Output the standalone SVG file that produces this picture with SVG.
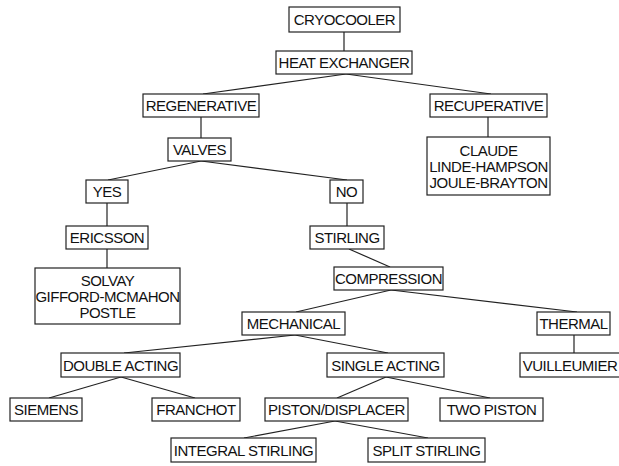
<svg xmlns="http://www.w3.org/2000/svg" width="619" height="466" viewBox="0 0 619 466">
<style>
rect{fill:#fff;stroke:#222;stroke-width:1.2}
text{font-family:"Liberation Sans",Arial,sans-serif;font-size:15px;letter-spacing:-0.5px;fill:#111;text-anchor:middle}
#connectors line{stroke:#222;stroke-width:1.2}
</style>
<rect x="0" y="0" width="619" height="466" style="fill:#fff;stroke:none"/>
<g id="connectors">
<line x1="344" y1="32" x2="344" y2="51"/>
<line x1="346" y1="74" x2="203" y2="94"/>
<line x1="346" y1="74" x2="491" y2="94"/>
<line x1="201" y1="117" x2="201" y2="138"/>
<line x1="488" y1="117" x2="488" y2="137"/>
<line x1="201" y1="161" x2="108" y2="180"/>
<line x1="201" y1="161" x2="347" y2="180"/>
<line x1="107" y1="203" x2="107" y2="226"/>
<line x1="347" y1="203" x2="347" y2="226"/>
<line x1="107" y1="249" x2="107" y2="268"/>
<line x1="349" y1="249" x2="390" y2="267"/>
<line x1="391" y1="290" x2="296" y2="312"/>
<line x1="391" y1="290" x2="577" y2="312"/>
<line x1="574" y1="335" x2="574" y2="353"/>
<line x1="295" y1="335" x2="124" y2="353"/>
<line x1="295" y1="335" x2="388" y2="353"/>
<line x1="121" y1="377" x2="49" y2="398"/>
<line x1="121" y1="377" x2="195" y2="398"/>
<line x1="386" y1="377" x2="337" y2="398"/>
<line x1="386" y1="377" x2="490" y2="398"/>
<line x1="335" y1="421" x2="244" y2="438"/>
<line x1="335" y1="421" x2="428" y2="438"/>
</g>
<g id="cryocooler"><rect x="289" y="7" width="111" height="25"/><text x="344.5" y="25">CRYOCOOLER</text></g>
<g id="heat-exchanger"><rect x="276" y="51" width="136" height="23"/><text x="344" y="68">HEAT EXCHANGER</text></g>
<g id="regenerative"><rect x="143" y="94" width="116" height="23"/><text x="201" y="111">REGENERATIVE</text></g>
<g id="recuperative"><rect x="430" y="94" width="117" height="23"/><text x="488.5" y="111">RECUPERATIVE</text></g>
<g id="valves"><rect x="168" y="138" width="63" height="23"/><text x="199.5" y="155">VALVES</text></g>
<g id="recuperative-types"><rect x="427" y="137" width="123" height="58"/><text x="488.5" y="155.5">CLAUDE</text><text x="488.5" y="171.5">LINDE-HAMPSON</text><text x="488.5" y="187.5">JOULE-BRAYTON</text></g>
<g id="yes"><rect x="86" y="180" width="42" height="23"/><text x="107" y="197">YES</text></g>
<g id="no"><rect x="330" y="180" width="33" height="23"/><text x="346.5" y="197">NO</text></g>
<g id="ericsson"><rect x="66" y="226" width="82" height="23"/><text x="107" y="243">ERICSSON</text></g>
<g id="stirling"><rect x="310" y="226" width="74" height="23"/><text x="347" y="243">STIRLING</text></g>
<g id="ericsson-types"><rect x="35" y="268" width="145" height="56"/><text x="107.5" y="285.5">SOLVAY</text><text x="107.5" y="301.5">GIFFORD-MCMAHON</text><text x="107.5" y="317.5">POSTLE</text></g>
<g id="compression"><rect x="334" y="267" width="109" height="23"/><text x="388.5" y="284">COMPRESSION</text></g>
<g id="mechanical"><rect x="242" y="312" width="103" height="23"/><text x="293.5" y="329">MECHANICAL</text></g>
<g id="thermal"><rect x="537" y="312" width="73" height="23"/><text x="573.5" y="329">THERMAL</text></g>
<g id="double-acting"><rect x="61" y="353" width="119" height="24"/><text x="120.5" y="370.5">DOUBLE ACTING</text></g>
<g id="single-acting"><rect x="327" y="353" width="117" height="24"/><text x="385.5" y="370.5">SINGLE ACTING</text></g>
<g id="vuilleumier"><rect x="520" y="353" width="102" height="24"/><text x="570" y="370.5">VUILLEUMIER</text></g>
<g id="siemens"><rect x="10" y="398" width="72" height="23"/><text x="46" y="415">SIEMENS</text></g>
<g id="franchot"><rect x="152" y="398" width="88" height="23"/><text x="196" y="415">FRANCHOT</text></g>
<g id="piston-displacer"><rect x="265" y="398" width="143" height="23"/><text x="336.5" y="415">PISTON/DISPLACER</text></g>
<g id="two-piston"><rect x="440" y="398" width="103" height="23"/><text x="491.5" y="415">TWO PISTON</text></g>
<g id="integral-stirling"><rect x="171" y="438" width="145" height="24"/><text x="243.5" y="455.5">INTEGRAL STIRLING</text></g>
<g id="split-stirling"><rect x="368" y="438" width="117" height="24"/><text x="426.5" y="455.5">SPLIT STIRLING</text></g>
</svg>
